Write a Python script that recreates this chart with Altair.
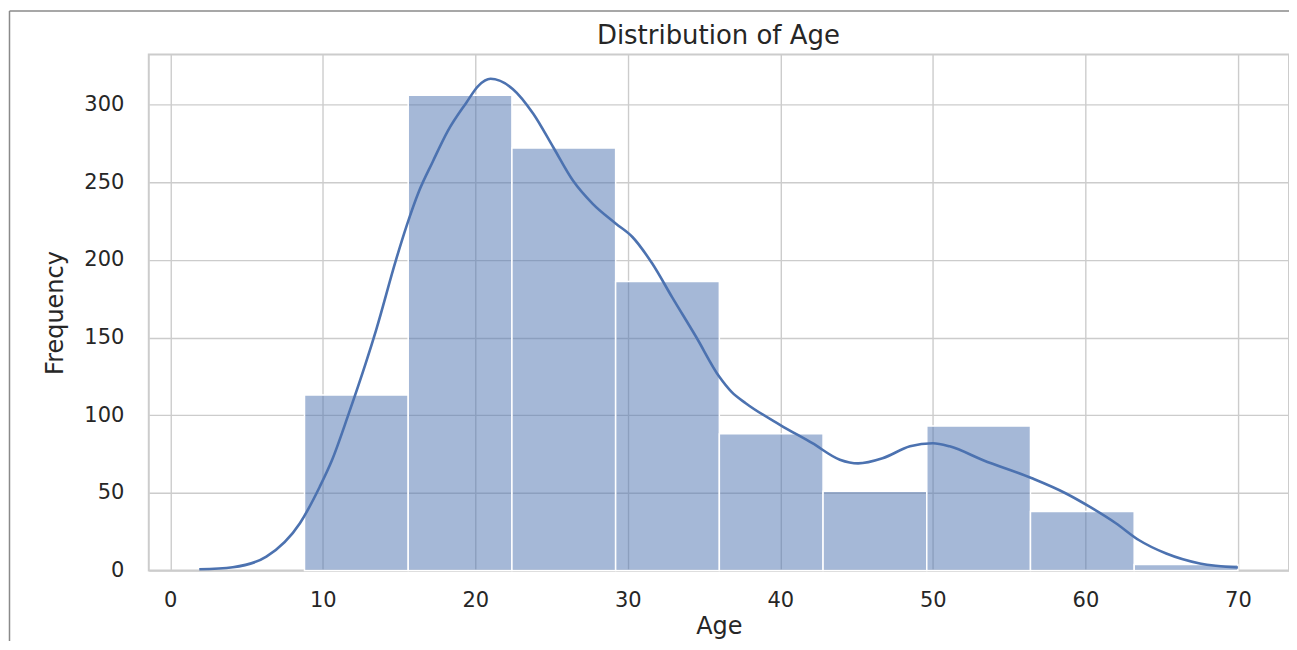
import altair as alt
import pandas as pd

# Histogram bins (Age) and counts
bin_start = [8.8, 15.6, 22.4, 29.2, 36.0, 42.8, 49.6, 56.4, 63.2]
bin_end = [15.6, 22.4, 29.2, 36.0, 42.8, 49.6, 56.4, 63.2, 70.0]
counts = [113, 306, 272, 186, 88, 51, 93, 38, 4]

# KDE curve (scaled to counts)
kde_age = [1.9, 4.1, 6.3, 8.5, 9.8, 10.6, 11.7, 12.8, 13.5, 14.8, 15.5, 16.3,
           17.2, 18.2, 19.4, 20.2, 21.0, 22.45, 23.8, 25.1, 26.4, 27.7, 29.2,
           30.3, 31.6, 32.9, 34.5, 36.0, 36.8, 37.75, 40.0, 42.1, 43.9, 45.1,
           46.7, 48.5, 50.0, 51.1, 53.3, 56.5, 58.7, 60.3, 62.0, 63.5, 65.3,
           67.5, 70.0]
kde_freq = [0.9, 2.2, 9, 30.5, 54, 71, 101, 133, 155, 200, 222, 244,
            263, 283, 301, 312, 316.5, 310, 294, 272.6, 251, 236, 223.4,
            214.7, 197.6, 176, 150, 124.7, 115, 107.6, 93.7, 82, 71.4, 69,
            72.3, 80, 82, 80, 71, 59.4, 49.8, 41, 30.5, 19.7, 11,
            4.6, 2]

x_ticks = [0, 10, 20, 30, 40, 50, 60, 70]
y_ticks = [0, 50, 100, 150, 200, 250, 300]
chart_title = "Distribution of Age"

bars_df = pd.DataFrame({"start": bin_start, "end": bin_end, "count": counts})
kde_df = pd.DataFrame({"age": kde_age, "freq": kde_freq})

xscale = alt.Scale(domain=[-1.41, 73.35], nice=False, zero=False)
yscale = alt.Scale(domain=[0, 332.2], nice=False, zero=False)

TXT = "#262626"
BLUE = "#4c72b0"

bars = alt.Chart(bars_df).mark_bar(
    color=BLUE, fillOpacity=0.5, stroke="white", strokeWidth=1.5
).encode(
    x=alt.X("start:Q", scale=xscale, title="Age", axis=alt.Axis(values=x_ticks)),
    x2="end:Q",
    y=alt.Y("count:Q", scale=yscale, title="Frequency", axis=alt.Axis(values=y_ticks)),
    y2=alt.datum(0),
)

line = alt.Chart(kde_df).mark_line(
    color=BLUE, strokeWidth=2.6, interpolate="monotone"
).encode(
    x=alt.X("age:Q", scale=xscale, title="Age", axis=alt.Axis(values=x_ticks)),
    y=alt.Y("freq:Q", scale=yscale, title="Frequency", axis=alt.Axis(values=y_ticks)),
)

one_df = pd.DataFrame({"k": [0]})
frame_v = alt.Chart(one_df).mark_rule(color="#8a8a8a", strokeWidth=1.5).encode(
    x=alt.value(-139.5), y=alt.value(-43.5), y2=alt.value(600)
)
frame_h = alt.Chart(one_df).mark_rule(color="#8a8a8a", strokeWidth=1.5).encode(
    x=alt.value(-139.5), x2=alt.value(1160), y=alt.value(-43.5)
)
title_txt = alt.Chart(one_df).mark_text(
    font="DejaVu Sans", fontSize=26, color=TXT, align="center", baseline="alphabetic"
).encode(
    x=alt.value(570.5), y=alt.value(-10.7), text=alt.value(chart_title)
)

chart = alt.layer(bars, line, frame_v, frame_h, title_txt).properties(
    width=1142,
    height=517,
    autosize=alt.AutoSizeParams(type="none"),
    padding={"left": 141, "top": 46, "right": 0, "bottom": 70},
).configure(
    font="DejaVu Sans"
).configure_view(
    stroke="#cccccc", strokeWidth=2
).configure_axis(
    grid=True, gridColor="#cccccc", gridWidth=1.4, domain=False, tickSize=0,
    labelFont="DejaVu Sans", labelColor=TXT, labelFontSize=21,
    titleFont="DejaVu Sans", titleColor=TXT, titleFontWeight="normal",
).configure_axisX(
    labelPadding=19, titleFontSize=24, titlePadding=4,
).configure_axisY(
    labelPadding=25, titleFontSize=24, titlePadding=16,
)

chart.save("out.html", embed_options={"renderer": "svg", "actions": False})
